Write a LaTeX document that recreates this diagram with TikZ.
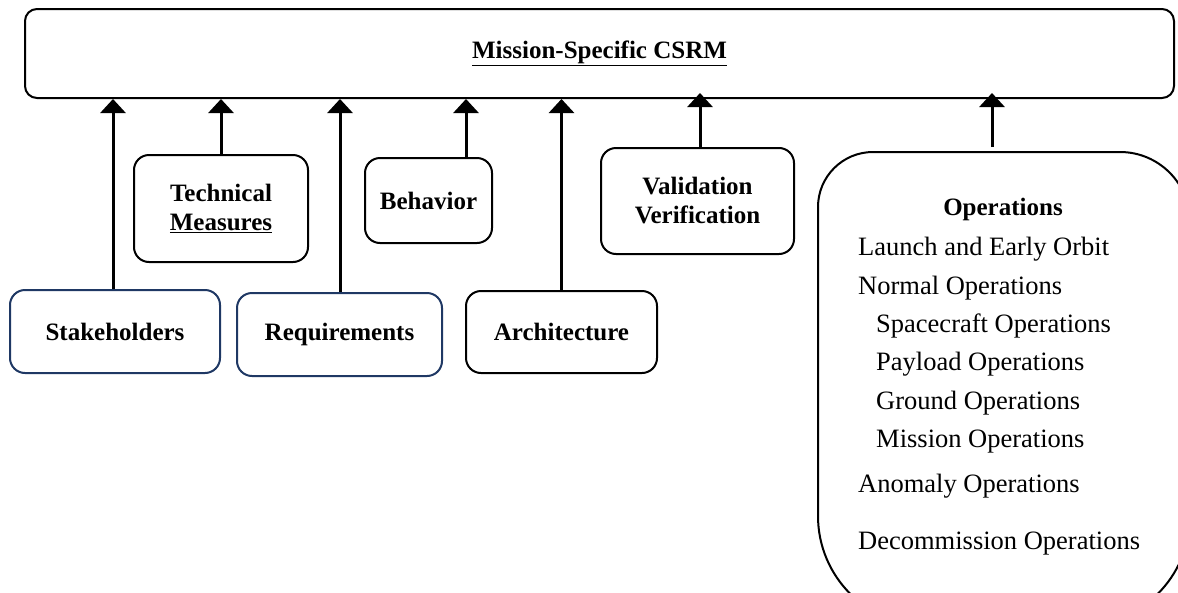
\documentclass[tikz,border=0pt]{standalone}
\usepackage{fontspec}
\setmainfont{Liberation Serif}
\usepackage{xcolor}
\usetikzlibrary{arrows.meta}
\definecolor{navyline}{RGB}{31,56,100}
\newcommand{\csrmbold}{\fontsize{25}{29}\selectfont\bfseries}
\newcommand{\csrmitem}{\fontsize{26.5}{30}\selectfont}

\begin{document}
\begin{tikzpicture}[
    x=1pt, y=-1pt,
    box/.style={draw, line width=2pt, rounded corners=15pt, inner sep=0pt, align=center, font=\csrmbold},
    navybox/.style={box, draw=navyline},
    up/.style={draw, -{Triangle[width=25pt, length=14pt]}, line width=3pt},
    item/.style={anchor=west, inner sep=0pt, text height=18.5pt, text depth=5.5pt, font=\csrmitem}
]
\useasboundingbox (0,0) rectangle (1178,592);

% top bar
\node[box, rounded corners=12pt, minimum width=1149pt, minimum height=89pt] (csrm) at (599.5,53.5) {\underline{Mission-Specific CSRM}};

% upper row
\node[box, minimum width=174pt, minimum height=107pt] (tech) at (221,208.5) {Technical\\\underline{Measures}};
\node[box, minimum width=127pt, minimum height=85pt] (behav) at (428.5,200.5) {Behavior};
\node[box, minimum width=193pt, minimum height=106pt] (valid) at (697.5,201) {Validation\\Verification};

% lower row
\node[navybox, minimum width=210pt, minimum height=83pt] (stake) at (115,331.5) {Stakeholders};
\node[navybox, minimum width=205pt, minimum height=83pt] (req) at (339.5,334.5) {Requirements};
\node[box, minimum width=191pt, minimum height=82pt] (arch) at (561.5,332) {Architecture};

% operations (runs off the page)
\draw[line width=2pt] (818,400) -- (818,207)
    arc[start angle=180, end angle=90, radius=55pt] -- (1120,152)
    arc[start angle=90, end angle=0, radius=70pt] -- (1190,516)
    arc[start angle=0, end angle=-90, radius=110pt] -- (928,626)
    arc[start angle=270, end angle=180, radius=110pt] -- cycle;
\coordinate (opstop) at (992,147);
\node[font=\csrmbold] (opstitle) at (1003,209) {Operations};
\node[item] (launch) at (858,249) {Launch and Early Orbit};
\node[item] (normal) at (858,288) {Normal Operations};
\node[item] (craft) at (876,326) {Spacecraft Operations};
\node[item] (payload) at (876,364) {Payload Operations};
\node[item] (ground) at (876,403) {Ground Operations};
\node[item] (mission) at (876,441) {Mission Operations};
\node[item] (anomaly) at (858,486) {Anomaly Operations};
\node[item] (decom) at (858,543) {Decommission Operations};

% arrows
\draw[up] ([xshift=-2pt]stake.north) coordinate (a1) -- (a1 |- csrm.south);
\draw[up] (tech.north) -- (tech.north |- csrm.south);
\draw[up] ([xshift=0.5pt]req.north) coordinate (a3) -- (a3 |- csrm.south);
\draw[up] ([xshift=37.5pt]behav.north) coordinate (a4) -- (a4 |- csrm.south);
\draw[up] (arch.north) -- (arch.north |- csrm.south);
\draw[up] ([xshift=2.5pt]valid.north) coordinate (a6) -- ([yshift=6pt]a6 |- csrm.south);
\draw[up] (opstop) -- ([yshift=6pt]opstop |- csrm.south);

\end{tikzpicture}
\end{document}
